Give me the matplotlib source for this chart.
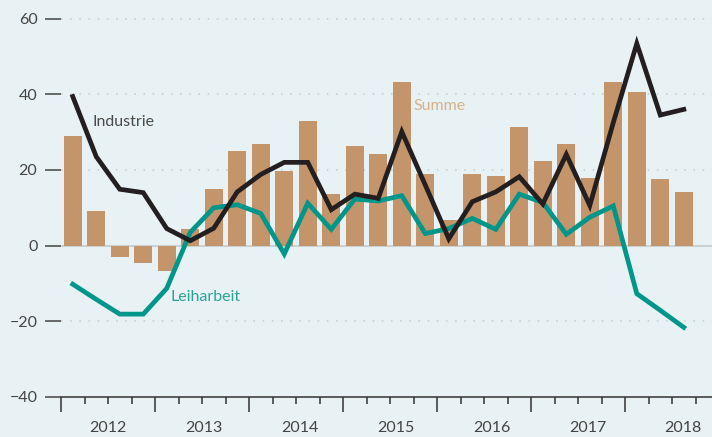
# -*- coding: utf-8 -*-
''' Quarterly change: Summe (bars), Industrie and Leiharbeit (lines) '''

import numpy as np
import matplotlib.pyplot as plt
from matplotlib.ticker import FixedLocator

# quarters 2012 Q1 .. 2018 Q3
summe = [29.0, 9.1, -3.1, -4.5, -6.7, 4.3, 15.0, 25.0, 26.9, 19.8, 32.9, 13.7,
         26.3, 24.2, 43.3, 18.9, 6.7, 18.9, 18.4, 31.3, 22.4, 26.9, 17.9, 43.3,
         40.6, 17.6, 14.2]
industrie = [39.4, 23.5, 14.9, 14.0, 4.5, 1.3, 4.6, 14.2, 18.8, 22.0, 22.0, 9.5,
             13.6, 12.5, 30.1, 16.0, 1.8, 11.6, 14.2, 18.2, 11.0, 24.1, 10.6, 32.5,
             53.4, 34.5, 36.0]
leiharbeit = [-10.2, -14.2, -18.1, -18.1, -11.3, 3.5, 10.0, 10.8, 8.5, -2.2, 11.2, 4.3,
              12.3, 11.8, 13.2, 3.2, 4.5, 7.2, 4.3, 13.6, 11.4, 3.0, 7.5, 10.5,
              -12.7, -17.1, -21.6]
years = ['2012', '2013', '2014', '2015', '2016', '2017', '2018']
yticks = [-40, -20, 0, 20, 40, 60]

bg = '#e8f1f3'
c_bar = '#c4956a'
c_ind = '#231f20'
c_lei = '#00968a'
c_txt = '#444444'

plt.rcParams['font.family'] = ['Lato', 'DejaVu Sans']

fig = plt.figure(figsize=(7.12, 4.37), dpi=100, facecolor=bg)
ax = fig.add_axes([61 / 712, 40 / 437, 651 / 712, 397 / 437], facecolor=bg)

x = np.arange(len(summe))
ax.bar(x, summe, width=0.75, color=c_bar, zorder=2)
ax.plot(x, leiharbeit, color=c_lei, lw=3.4, solid_joinstyle='miter', zorder=3)
ax.plot(x, industrie, color=c_ind, lw=3.4, solid_joinstyle='miter', zorder=4)

# grid
for v in [-20, 20, 40, 60]:
    ax.axhline(v, color='#c5cdcf', lw=1.1, ls=(0, (1, 5)), zorder=1)
ax.axhline(0, color='#c3cbce', lw=1.2, zorder=1)

ax.set_xlim(-0.5, 27.2)
ax.set_ylim(-40, 64.9)

for s in ['top', 'right', 'left']:
    ax.spines[s].set_visible(False)
ax.spines['bottom'].set_color('#333333')
ax.spines['bottom'].set_linewidth(1.1)

ax.set_yticks(yticks)
ax.set_yticklabels([str(v).replace('-', '\u2212') for v in yticks])
ax.tick_params(axis='y', length=11.5, width=1.1, color='#444444', pad=5.5,
               labelsize=11.5, labelcolor=c_txt)

ax.xaxis.set_major_locator(FixedLocator(np.arange(-0.5, 27, 4)))
ax.xaxis.set_minor_locator(FixedLocator(np.arange(-0.5, 27, 1)))
ax.tick_params(axis='x', which='major', length=11, width=1.1, color='#333333',
               labelbottom=False)
ax.tick_params(axis='x', which='minor', length=5, width=1.1, color='#333333')

for k, yr in enumerate(years):
    ax.text(1.5 + k * 4.08, -0.077, yr, transform=ax.get_xaxis_transform(),
            ha='center', va='center', fontsize=11.5, color=c_txt)

ax.text(0.85, 32.7, 'Industrie', fontsize=11.5, color='#4a4a4a', va='center')
ax.text(14.5, 36.8, 'Summe', fontsize=11.5, color='#d6b28c', va='center')
ax.text(4.18, -13.5, 'Leiharbeit', fontsize=11.5, color='#2aa396', va='center')

fig.savefig('out.png', dpi=100, facecolor=bg)
